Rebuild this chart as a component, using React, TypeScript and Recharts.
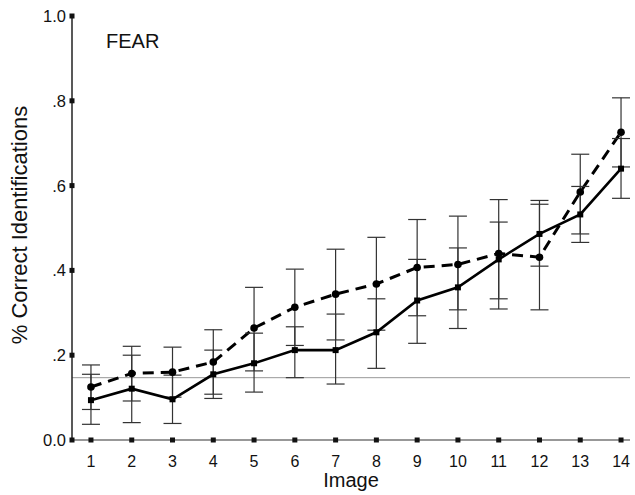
import { LineChart, Line, XAxis, YAxis, ErrorBar, ReferenceLine } from 'recharts';

const images = [1, 2, 3, 4, 5, 6, 7, 8, 9, 10, 11, 12, 13, 14];
const solid = [0.094, 0.121, 0.096, 0.155, 0.181, 0.212, 0.212, 0.254, 0.329, 0.36, 0.426, 0.486, 0.532, 0.64];
const solidLo = [0.037, 0.041, 0.039, 0.098, 0.113, 0.147, 0.132, 0.169, 0.228, 0.263, 0.333, 0.41, 0.466, 0.57];
const solidHi = [0.155, 0.2, 0.153, 0.212, 0.252, 0.267, 0.297, 0.333, 0.426, 0.453, 0.514, 0.565, 0.598, 0.711];
const dashed = [0.125, 0.157, 0.16, 0.184, 0.264, 0.313, 0.344, 0.368, 0.407, 0.414, 0.44, 0.431, 0.585, 0.726];
const dashedLo = [0.072, 0.092, 0.101, 0.108, 0.163, 0.223, 0.236, 0.259, 0.293, 0.307, 0.309, 0.307, 0.486, 0.644];
const dashedHi = [0.177, 0.221, 0.219, 0.26, 0.36, 0.403, 0.45, 0.478, 0.52, 0.528, 0.567, 0.556, 0.674, 0.807];
const yTicks = [0, 0.2, 0.4, 0.6, 0.8, 1.0];
const yTickLabels = ['0.0', '.2', '.4', '.6', '.8', '1.0'];
const chance = 0.147;

const data = images.map((img, i) => ({
  img,
  solid: solid[i],
  solidErr: [solid[i] - solidLo[i], solidHi[i] - solid[i]],
  dashed: dashed[i],
  dashedErr: [dashed[i] - dashedLo[i], dashedHi[i] - dashed[i]],
}));

const font = '"Liberation Sans", Arial, Helvetica, sans-serif';

const XTick = (props: any) => {
  const { x, y, payload } = props;
  return (
    <g>
      <rect x={x - 2.5} y={y - 2.5} width={5} height={5} fill="#111" />
      <text x={x} y={y + 27} textAnchor="middle" fontSize={16} fontFamily={font} fill="#111">
        {payload.value}
      </text>
    </g>
  );
};

const YTick = (props: any) => {
  const { x, y, payload } = props;
  const idx = yTicks.indexOf(payload.value);
  return (
    <g>
      <rect x={x - 2.5} y={y - 2.5} width={5} height={5} fill="#111" />
      <text x={x - 6} y={y + 6} textAnchor="end" fontSize={16.5} fontFamily={font} fill="#111">
        {idx >= 0 ? yTickLabels[idx] : ''}
      </text>
    </g>
  );
};

const SquareDot = (props: any) => {
  const { cx, cy, index } = props;
  return <rect key={`sq-${index}`} x={cx - 3} y={cy - 3} width={6} height={6} fill="#000" />;
};

const RoundDot = (props: any) => {
  const { cx, cy, index } = props;
  return <circle key={`ci-${index}`} cx={cx} cy={cy} r={3.8} fill="#000" />;
};

export default function App() {
  return (
    <div style={{ position: 'absolute', left: 0, top: 0, width: 635, height: 495, background: '#fff' }}>
      <LineChart width={635} height={495} data={data} margin={{ top: 16, right: 5, left: 0, bottom: 0 }}>
        <XAxis
          dataKey="img"
          type="number"
          domain={[0.535, 14.22]}
          ticks={images}
          allowDataOverflow
          height={55}
          tickSize={0}
          tickMargin={0}
          tickLine={false}
          tick={<XTick />}
          axisLine={{ stroke: '#333', strokeWidth: 1.2 }}
        />
        <YAxis
          type="number"
          domain={[0, 1]}
          ticks={yTicks}
          allowDataOverflow
          width={72}
          tickSize={0}
          tickMargin={0}
          tickLine={false}
          tick={<YTick />}
          axisLine={{ stroke: '#222', strokeWidth: 1.5 }}
        />
        <ReferenceLine y={chance} stroke="#999" strokeWidth={1} />
        <Line
          dataKey="dashed"
          stroke="#000"
          strokeWidth={3}
          strokeDasharray="11 7"
          dot={RoundDot}
          isAnimationActive={false}
        >
          <ErrorBar dataKey="dashedErr" direction="y" width={9} stroke="#333" strokeWidth={1.2} />
        </Line>
        <Line
          dataKey="solid"
          stroke="#000"
          strokeWidth={2.6}
          dot={SquareDot}
          isAnimationActive={false}
        >
          <ErrorBar dataKey="solidErr" direction="y" width={9} stroke="#333" strokeWidth={1.2} />
        </Line>
        <text x={106} y={48} fontSize={20} fontFamily={font} fill="#111">
          FEAR
        </text>
        <text x={351} y={487} textAnchor="middle" fontSize={20} fontFamily={font} fill="#111">
          Image
        </text>
        <text
          x={27}
          y={225}
          transform="rotate(-90, 27, 225)"
          textAnchor="middle"
          fontSize={22}
          fontFamily={font}
          fill="#111"
        >
          % Correct Identifications
        </text>
      </LineChart>
    </div>
  );
}
